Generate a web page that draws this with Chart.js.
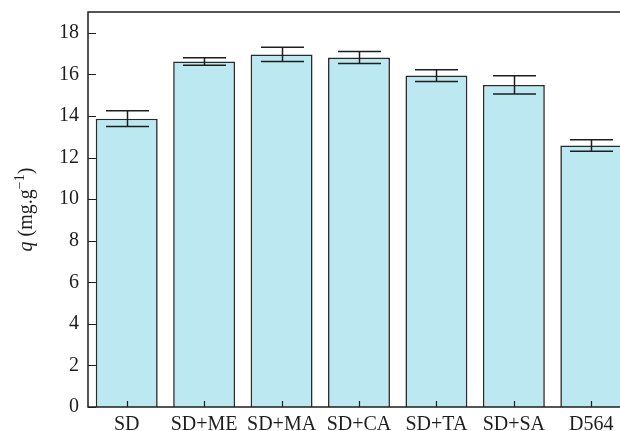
<!DOCTYPE html>
<html>
<head>
<meta charset="utf-8">
<script src="https://cdn.jsdelivr.net/npm/chart.js@4/dist/chart.umd.min.js"></script>
<style>
  html, body { margin: 0; padding: 0; background: #fff; overflow: hidden; width: 620px; height: 431px; }
  #wrap { position: absolute; left: 0; top: 0; width: 640px; height: 431px; }
</style>
</head>
<body>
<div id="wrap"><canvas id="c" width="640" height="431"></canvas></div>
<script>
// Adsorption capacity per sample (mg/g) with standard deviations
const categories = ['SD', 'SD+ME', 'SD+MA', 'SD+CA', 'SD+TA', 'SD+SA', 'D564'];
const capacity = [13.87, 16.62, 16.96, 16.81, 15.94, 15.49, 12.58];
const errors = [0.38, 0.18, 0.34, 0.29, 0.28, 0.44, 0.28];
const yTicks = [0, 2, 4, 6, 8, 10, 12, 14, 16, 18];

const SERIF = '"Liberation Serif", "DejaVu Serif", serif';
const INK = '#1e1e1e';

// Frame around the plot area plus inward-pointing tick marks
const framePlugin = {
  id: 'frame',
  afterDraw(chart) {
    const { ctx, chartArea: a, scales } = chart;
    ctx.save();
    ctx.strokeStyle = INK;
    ctx.lineWidth = 1.5;
    ctx.strokeRect(a.left, a.top, a.right - a.left, a.bottom - a.top);
    ctx.lineWidth = 1.2;
    ctx.beginPath();
    yTicks.forEach(v => {
      const y = Math.round(scales.y.getPixelForValue(v)) + 0.5;
      ctx.moveTo(a.left, y);
      ctx.lineTo(a.left + 8, y);
    });
    categories.forEach((c, i) => {
      const x = Math.round(scales.x.getPixelForValue(i)) + 0.5;
      ctx.moveTo(x, a.bottom);
      ctx.lineTo(x, a.bottom - 6);
    });
    ctx.stroke();
    ctx.restore();
  }
};

// Error bars on top of each bar
const errorBarPlugin = {
  id: 'errorBars',
  afterDatasetsDraw(chart) {
    const { ctx, scales } = chart;
    const meta = chart.getDatasetMeta(0);
    ctx.save();
    ctx.strokeStyle = INK;
    ctx.lineWidth = 1.5;
    meta.data.forEach((bar, i) => {
      const x = Math.round(bar.x) + 0.5;
      const yHi = scales.y.getPixelForValue(capacity[i] + errors[i]);
      const yLo = scales.y.getPixelForValue(capacity[i] - errors[i]);
      const half = 21.5;
      ctx.beginPath();
      ctx.moveTo(x, yHi); ctx.lineTo(x, yLo);
      ctx.moveTo(x - half, yHi); ctx.lineTo(x + half, yHi);
      ctx.moveTo(x - half, yLo); ctx.lineTo(x + half, yLo);
      ctx.stroke();
    });
    ctx.restore();
  }
};

// Rotated y-axis title: italic q, units with superscript exponent
const yTitlePlugin = {
  id: 'yTitle',
  afterDraw(chart) {
    const { ctx, chartArea: a } = chart;
    const parts = [
      { t: 'q', f: 'italic 20px ' + SERIF, dy: 0 },
      { t: ' (mg.g', f: '20px ' + SERIF, dy: 0 },
      { t: '\u22121', f: '14px ' + SERIF, dy: -8 },
      { t: ')', f: '20px ' + SERIF, dy: 0 }
    ];
    let total = 0;
    parts.forEach(p => { ctx.font = p.f; p.w = ctx.measureText(p.t).width; total += p.w; });
    ctx.save();
    ctx.translate(32, (a.top + a.bottom) / 2);
    ctx.rotate(-Math.PI / 2);
    ctx.fillStyle = INK;
    ctx.textBaseline = 'alphabetic';
    let x = -total / 2;
    parts.forEach(p => {
      ctx.font = p.f;
      ctx.fillText(p.t, x, p.dy);
      x += p.w;
    });
    ctx.restore();
  }
};

new Chart(document.getElementById('c'), {
  type: 'bar',
  data: {
    labels: categories,
    datasets: [{
      data: capacity,
      backgroundColor: '#bce8f2',
      borderColor: '#2a2a2a',
      borderWidth: 1.6,
      barPercentage: 0.8,
      categoryPercentage: 1.0
    }]
  },
  options: {
    responsive: false,
    animation: false,
    devicePixelRatio: 1,
    layout: { padding: { left: 0, top: 12, right: 10, bottom: 0 } },
    plugins: { legend: { display: false }, tooltip: { enabled: false } },
    scales: {
      x: {
        grid: { display: false, drawTicks: false },
        border: { display: false },
        ticks: { color: INK, font: { family: SERIF, size: 20 }, padding: 6, maxRotation: 0, autoSkip: false },
        afterFit(s) { s.height = 24; s.paddingLeft = 0; s.paddingRight = 0; }
      },
      y: {
        min: 0,
        max: 19,
        afterBuildTicks(s) { s.ticks = yTicks.map(v => ({ value: v })); },
        grid: { display: false, drawTicks: false },
        border: { display: false },
        ticks: { color: INK, font: { family: SERIF, size: 20 }, padding: 9 },
        afterFit(s) { s.width = 88; s.paddingTop = 0; s.paddingBottom = 0; }
      }
    }
  },
  plugins: [framePlugin, errorBarPlugin, yTitlePlugin]
});
</script>
</body>
</html>
